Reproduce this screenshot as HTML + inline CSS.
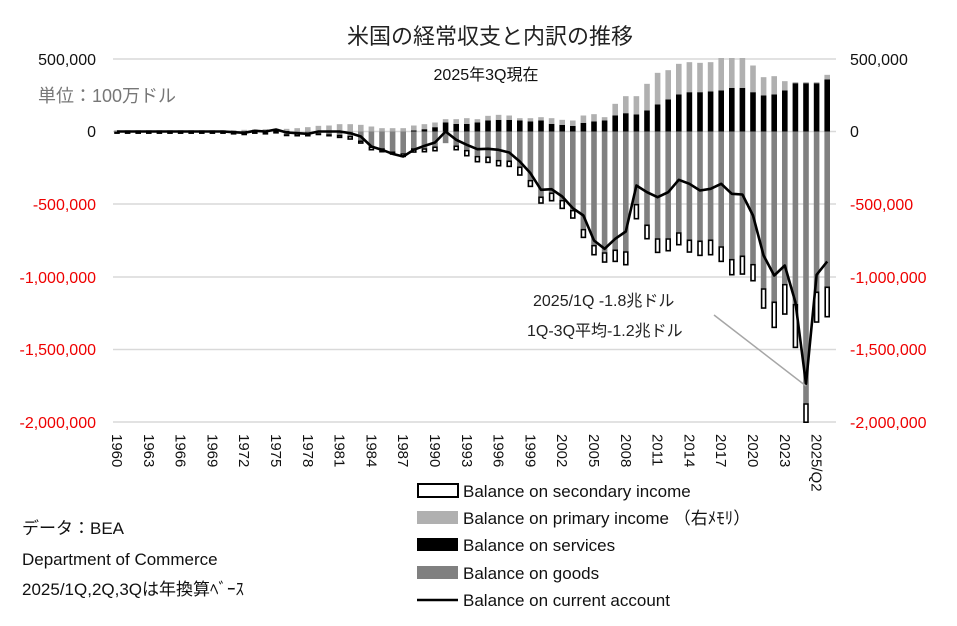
<!DOCTYPE html>
<html><head><meta charset="utf-8"><style>
body{margin:0;background:#fff;}
svg{display:block;font-family:"Liberation Sans","Noto Sans CJK JP",sans-serif;}
</style></head><body>
<svg id="c" width="957" height="626" viewBox="0 0 957 626" xmlns="http://www.w3.org/2000/svg">
<rect width="957" height="626" fill="#fff"/>
<g stroke="#d9d9d9" stroke-width="1.5">
<line x1="113" y1="59" x2="836" y2="59"/>
<line x1="113" y1="204" x2="836" y2="204"/>
<line x1="113" y1="277" x2="836" y2="277"/>
<line x1="113" y1="349.5" x2="836" y2="349.5"/>
<line x1="113" y1="422" x2="836" y2="422"/>
<line x1="113" y1="131.5" x2="836" y2="131.5"/>
</g>
<g id="bars"></g>
<text x="490" y="44" font-size="22" text-anchor="middle" fill="#222">米国の経常収支と内訳の推移</text>
<text x="486" y="80" font-size="16" text-anchor="middle" fill="#111">2025年3Q現在</text>
<text x="38" y="102" font-size="18" fill="#777">単位：100万ドル</text>
<g font-size="16" text-anchor="end">
<text x="96" y="65" fill="#111">500,000</text>
<text x="96" y="137" fill="#111">0</text>
<text x="96" y="210" fill="#e00">-500,000</text>
<text x="96" y="283" fill="#e00">-1,000,000</text>
<text x="96" y="355" fill="#e00">-1,500,000</text>
<text x="96" y="428" fill="#e00">-2,000,000</text>
</g>
<g font-size="16">
<text x="850" y="65" fill="#111">500,000</text>
<text x="850" y="137" fill="#111">0</text>
<text x="850" y="210" fill="#e00">-500,000</text>
<text x="850" y="283" fill="#e00">-1,000,000</text>
<text x="850" y="355" fill="#e00">-1,500,000</text>
<text x="850" y="428" fill="#e00">-2,000,000</text>
</g>
<g id="xl" font-size="15" fill="#111"></g>
<text x="533" y="306" font-size="16" fill="#222">2025/1Q -1.8兆ドル</text>
<text x="527" y="336" font-size="16" fill="#222">1Q-3Q平均-1.2兆ドル</text>
<line x1="714" y1="315" x2="806" y2="386" stroke="#a6a6a6" stroke-width="1.5"/>
<g font-size="17" fill="#111">
<rect x="418" y="484" width="40" height="13" fill="#fff" stroke="#000" stroke-width="2"/>
<text x="463" y="497">Balance on secondary income</text>
<rect x="417" y="511" width="41" height="13" fill="#b0b0b0"/>
<text x="463" y="524">Balance on primary income （右ﾒﾓﾘ）</text>
<rect x="417" y="538" width="41" height="13" fill="#000"/>
<text x="463" y="551">Balance on services</text>
<rect x="417" y="566" width="41" height="13" fill="#808080"/>
<text x="463" y="579">Balance on goods</text>
<line x1="417" y1="600" x2="458" y2="600" stroke="#000" stroke-width="2.5"/>
<text x="463" y="606">Balance on current account</text>
</g>
<g font-size="17" fill="#111">
<text x="22" y="534">データ：BEA</text>
<text x="22" y="565">Department of Commerce</text>
<text x="22" y="595">2025/1Q,2Q,3Qは年換算ﾍﾞｰｽ</text>
</g>
</svg>
<script>
var D=[];
for(var i=0;i<11;i++)D.push([1,3,1,4,0]);
D.push([1,3,3,4,2],[1,4,5,4,4],[1,5,1,4,-2],[2,5,3,4,0],[4,4,0,4,-6],[2,6,8,5,3]);
D=D.concat([[0,10,5,10,5],[0,13,5,10,7],[0,17,5,5,0],[0,18,8,7,0],[0,22,10,10,0],[0,22,13,12,5],[0,20,27,10,15],[0,15,45,12,45],[0,10,50,13,55],[0,10,60,10,67],[0,10,65,12,75],[3,15,50,14,55],[7,15,50,13,43],[13,14,45,15,33],[27,10,35,0,0],[23,14,42,15,25],[23,17,55,20,40],[27,10,73,20,53],[33,14,75,20,52],[35,15,85,20,55],[35,13,87,20,63],[33,7,105,28,90],[30,10,145,22,125],[33,10,195,22,175],[23,17,183,27,173],[20,15,205,28,195],[17,16,235,27,230],
[26,22,292,28,252],[30,22,340,32,327],[33,10,362,32,352],[48,35,354,38,322],[55,51,359,43,300],[51,55,217,47,162],[63,80,279,45,182],[81,95,320,45,197],[96,88,320,40,182],[111,92,302,40,145],[118,90,324,40,157],[118,88,327,47,177],[120,88,324,48,172],[123,100,344,48,157],[131,100,382,50,187],[131,100,372,58,189],[118,80,397,53,252],[108,55,470,62,372],[111,55,510,80,432],[123,28,457,93,402],[145,3,517,133,512],[145,3,815,60,757],[145,3,480,94,430],[156,14,465,93,390]]);
var z=131.5,h="",pts=[],w=5.6;
for(var i=0;i<D.length;i++){var d=D[i],x=117+10.6*i,l=x-w/2,s=d[0]/3,p=d[1]/3,g=d[2]/3,c=d[3]/3;
if(s>0)h+='<rect x="'+l+'" y="'+(z-s)+'" width="'+w+'" height="'+s+'" fill="#000"/>';
if(p>0){var t=Math.max(z-s-p,58);h+='<rect x="'+l+'" y="'+t+'" width="'+w+'" height="'+(z-s-t)+'" fill="#b0b0b0"/>';}
if(g>0)h+='<rect x="'+l+'" y="'+z+'" width="'+w+'" height="'+g+'" fill="#808080"/>';
if(c>0){var b=Math.min(z+g+c,423);h+='<rect x="'+(l+0.8)+'" y="'+(z+g+0.8)+'" width="'+(w-1.6)+'" height="'+Math.max(b-z-g-1.6,0.5)+'" fill="#fff" stroke="#000" stroke-width="1.6"/>';}
pts.push(x+','+(z+d[4]/3));}
h+='<polyline points="'+pts.join(' ')+'" fill="none" stroke="#000" stroke-width="2.6" stroke-linejoin="round"/>';
document.getElementById('bars').innerHTML=h;
var L=["1960","1963","1966","1969","1972","1975","1978","1981","1984","1987","1990","1993","1996","1999","2002","2005","2008","2011","2014","2017","2020","2023"],t="";
for(var k=0;k<L.length;k++){var x=117+10.6*3*k-5;t+='<text transform="translate('+x+',434) rotate(90)">'+L[k]+'</text>';}
t+='<text transform="translate('+(117+10.6*66-5)+',434) rotate(90)">2025/Q2</text>';
document.getElementById('xl').innerHTML=t;
</script>
</body></html>
